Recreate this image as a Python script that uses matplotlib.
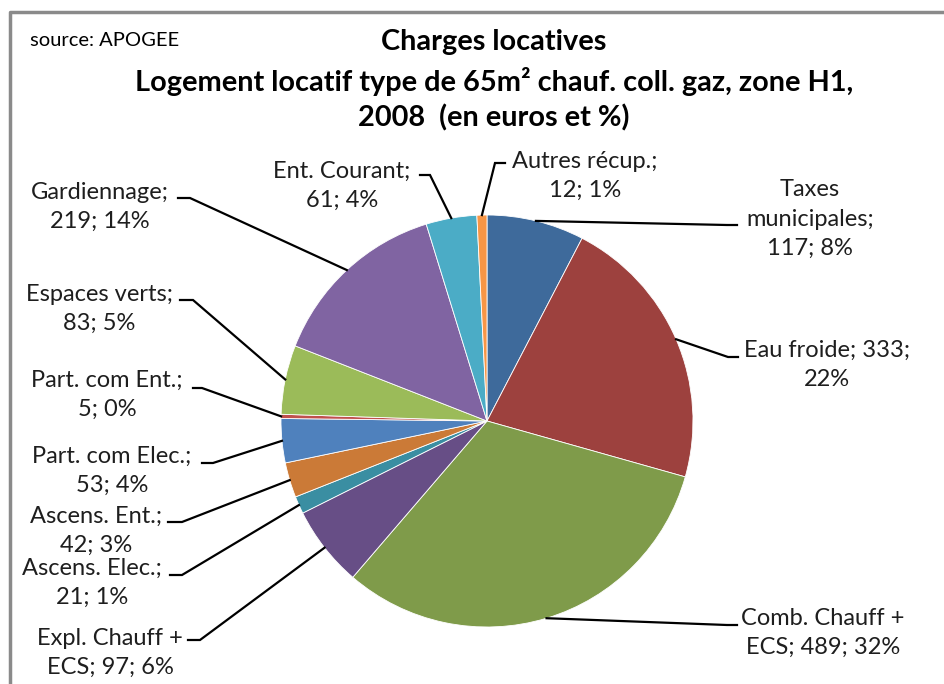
import numpy as np
import matplotlib
matplotlib.use("Agg")
import matplotlib.pyplot as plt

plt.rcParams['font.family'] = ['Lato', 'DejaVu Sans']

# données (euros)
labels = ['Taxes\nmunicipales;\n117; 8%', 'Eau froide; 333;\n22%', 'Comb. Chauff +\nECS; 489; 32%',
          'Expl. Chauff +\nECS; 97; 6%', 'Ascens. Elec.;\n21; 1%', 'Ascens. Ent.;\n42; 3%',
          'Part. com Elec.;\n53; 4%', 'Part. com Ent.;\n5; 0%', 'Espaces verts;\n83; 5%',
          'Gardiennage;\n219; 14%', 'Ent. Courant;\n61; 4%', 'Autres récup.;\n12; 1%']
values = [117, 333, 489, 97, 21, 42, 53, 5, 83, 219, 61, 12]
colors = ['#3E6A9B', '#9D413E', '#7F9B4A', '#674E86', '#3A8EA2', '#CB7A37',
          '#4F81BD', '#C0504D', '#9BBB59', '#8064A2', '#4BACC6', '#F79646']
title_lines = ['Charges locatives',
               'Logement locatif type de 65m² chauf. coll. gaz, zone H1,',
               '2008  (en euros et %)']

W, H = 945, 684
cx, cy, R = 487, 421, 206

# position du texte (centre), coude et bout de la ligne de rappel, en pixels
lab_pos = [(810, 219), (827, 365), (823, 633), (110, 653), (92, 583), (96, 531),
           (112, 471), (107, 395), (99, 309), (100, 207), (342, 186), (585, 176)]
elbows = [((727, 225), (737, 225)), ((728, 357), (738, 357)), ((727, 625), (737, 625)),
          ((200, 640), (188, 640)), ((182, 575), (170, 575)), ((182, 522), (168, 522)),
          ((213, 463), (202, 463)), ((202, 388), (193, 388)), ((193, 300), (180, 300)),
          ((190, 198), (178, 198)), ((430, 175), (420, 175)), ((495, 163), (505, 163))]

fig = plt.figure(figsize=(W / 100, H / 100), dpi=100)

ax = fig.add_axes([(cx - R) / W, (H - cy - R) / H, 2 * R / W, 2 * R / H])
wedges, _ = ax.pie(values, colors=colors, startangle=90, counterclock=False,
                   wedgeprops=dict(edgecolor='white', linewidth=0.6))
ax.set_xlim(-1, 1)
ax.set_ylim(-1, 1)
ax.set_aspect('auto')
ax.axis('off')

ov = fig.add_axes([0, 0, 1, 1], zorder=3)
ov.set_xlim(0, W)
ov.set_ylim(H, 0)
ov.axis('off')
ov.patch.set_alpha(0)

for w, lab, (tx, ty), (e1, e2) in zip(wedges, labels, lab_pos, elbows):
    th = np.deg2rad((w.theta1 + w.theta2) / 2)
    px, py = cx + R * np.cos(th), cy - R * np.sin(th)
    ov.plot([px, e1[0], e2[0]], [py, e1[1], e2[1]], color='black', lw=1.6,
            solid_joinstyle='miter')
    ov.text(tx, ty, lab, ha='center', va='center', fontsize=17, color='#1e1e1e',
            linespacing=1.49)

# cadre
ov.plot([10, 10, W + 5], [H + 5, 12, 12], color='#8a8a8a', lw=2.5, clip_on=False)

ov.text(30, 40, 'source: APOGEE', fontsize=14.5, ha='left', va='center', color='black')
for t, y in zip(title_lines, [42, 81, 118]):
    ov.text(494, y, t, ha='center', va='center', fontsize=20.8, fontweight='bold', color='black')

fig.savefig('out.png', dpi=100)
